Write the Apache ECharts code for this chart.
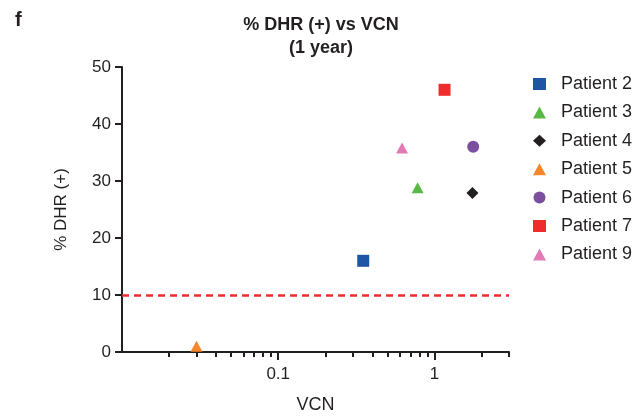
<!DOCTYPE html>
<html>
<head>
<meta charset="utf-8">
<script src="https://cdn.jsdelivr.net/npm/echarts@6/dist/echarts.min.js"></script>
<style>
  html, body { margin: 0; padding: 0; background: #fff; }
  #main { width: 636px; height: 419px; }
</style>
</head>
<body>
<div id="main"></div>
<script>
// data
var patients = ['Patient 2', 'Patient 3', 'Patient 4', 'Patient 5', 'Patient 6', 'Patient 7', 'Patient 9'];
var vcn = [0.35, 0.78, 1.75, 0.03, 1.77, 1.16, 0.62];
var dhr = [16, 28.8, 27.9, 1, 36, 46, 35.8];
var symbols = ['rect', 'triangle', 'diamond', 'triangle', 'circle', 'rect', 'triangle'];
var colors = ['#1f55a5', '#5ab946', '#231f20', '#f5862a', '#7b4fa0', '#ee2c2c', '#e27bb5'];
var sizes = [12, [12, 11], [12, 12], [12, 11], 12, 12, [12, 11]];
var threshold = 10;

var majorTicks = [0.1, 1];
var minorTicks = [0.02, 0.03, 0.04, 0.05, 0.06, 0.07, 0.08, 0.09,
                  0.2, 0.3, 0.4, 0.5, 0.6, 0.7, 0.8, 0.9, 2, 3];

var chart = echarts.init(document.getElementById('main'), null, { renderer: 'canvas' });

var font = 'Liberation Sans, Arial, sans-serif';
var ink = '#231f20';

var series = patients.map(function (p, i) {
    var s = {
        name: p,
        type: 'scatter',
        symbol: symbols[i],
        symbolSize: sizes[i],
        clip: false,
        itemStyle: { color: colors[i], opacity: 1 },
        data: [[vcn[i], dhr[i]]],
        z: 5
    };
    if (i === 0) {
        // dashed 10% threshold
        s.markLine = {
            silent: true,
            symbol: ['none', 'none'],
            label: { show: false },
            lineStyle: { color: '#ee2c2c', type: [7, 5], width: 2.5 },
            data: [{ yAxis: threshold }],
            z: 3
        };
    }
    return s;
});

var option = {
    animation: false,
    textStyle: { fontFamily: font },
    title: [{
        text: '% DHR (+) vs VCN\n(1 year)',
        left: 316,
        top: 9,
        textAlign: 'center',
        textStyle: { fontSize: 18, fontWeight: 'bold', color: ink, lineHeight: 23, fontFamily: font }
    }, {
        text: 'f',
        left: 10,
        top: 5,
        textStyle: { fontSize: 20, fontWeight: 'bold', color: ink, fontFamily: font }
    }],
    legend: {
        orient: 'vertical',
        left: 528,
        top: 70,
        itemWidth: 13,
        itemHeight: 12,
        itemGap: 10.4,
        textStyle: { fontSize: 18, color: ink, fontFamily: font, padding: [0, 0, 0, 10] },
        data: patients
    },
    grid: { left: 122, right: 127, top: 67, bottom: 62, containLabel: false },
    xAxis: [{
        type: 'log',
        logBase: 10,
        min: 0.01,
        max: 3,
        position: 'bottom',
        name: 'VCN',
        nameLocation: 'middle',
        nameGap: 44,
        nameTextStyle: { fontSize: 18, color: ink, fontFamily: font },
        axisLine: { lineStyle: { color: ink, width: 2 } },
        axisTick: { show: true, length: 8, lineStyle: { color: ink, width: 2 }, customValues: majorTicks },
        axisLabel: { fontSize: 17, color: ink, margin: 14, customValues: majorTicks,
                     formatter: function (v) { return String(v); } },
        splitLine: { show: false }
    }, {
        type: 'log',
        logBase: 10,
        min: 0.01,
        max: 3,
        position: 'bottom',
        offset: 0,
        axisLine: { show: false },
        axisTick: { show: true, length: 5, lineStyle: { color: ink, width: 2 }, customValues: minorTicks },
        axisLabel: { show: false },
        splitLine: { show: false }
    }],
    yAxis: {
        type: 'value',
        min: 0,
        max: 50,
        interval: 10,
        name: '% DHR (+)',
        nameLocation: 'middle',
        nameGap: 52,
        nameRotate: 90,
        nameTextStyle: { fontSize: 17, color: ink, fontFamily: font },
        axisLine: { show: true, lineStyle: { color: ink, width: 2 } },
        axisTick: { show: true, length: 7, lineStyle: { color: ink, width: 2 } },
        axisLabel: { fontSize: 17, color: ink, margin: 11 },
        splitLine: { show: false }
    },
    series: series
};

chart.setOption(option);
</script>
</body>
</html>
